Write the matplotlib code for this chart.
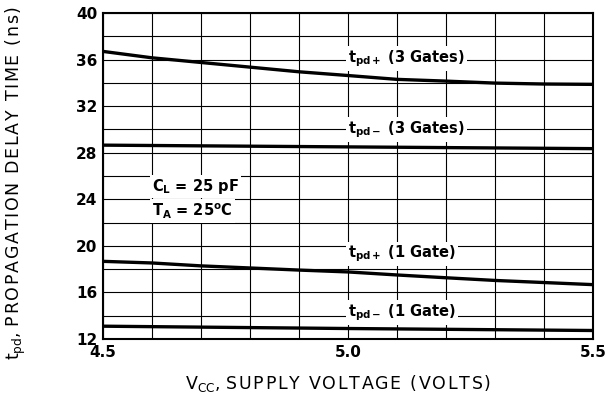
import matplotlib
matplotlib.use("Agg")
import matplotlib.pyplot as plt
import numpy as np

# supply voltage (V) and propagation delays (ns)
vcc = [4.5, 4.6, 4.7, 4.8, 4.9, 5.0, 5.1, 5.2, 5.3, 5.4, 5.5]
tpd_plus_3 = [36.7, 36.15, 35.75, 35.35, 34.95, 34.63, 34.3, 34.15, 33.98, 33.9, 33.87]
tpd_plus_1 = [18.67, 18.53, 18.28, 18.1, 17.92, 17.76, 17.5, 17.26, 17.03, 16.85, 16.67]
vcc_flat = [4.5, 5.0, 5.5]
tpd_minus_3 = [28.65, 28.5, 28.35]
tpd_minus_1 = [13.1, 12.9, 12.73]

x_labels = ["4.5", "5.0", "5.5"]
y_labels = ["12", "16", "20", "24", "28", "32", "36", "40"]

plt.rcParams["font.family"] = ["DejaVu Sans"]
plt.rcParams["mathtext.fontset"] = "dejavusans"


def spaced(s):
    # loose letter spacing like the old datasheet lettering
    return "\u200a".join(s)


fig = plt.figure(figsize=(6.1, 4.0), dpi=100)
ax = fig.add_axes([0.169, 0.1525, 0.803, 0.815])

lw = 2.4
ax.plot(vcc, tpd_plus_3, "k-", lw=lw, zorder=3)
ax.plot(vcc_flat, tpd_minus_3, "k-", lw=lw, zorder=3)
ax.plot(vcc, tpd_plus_1, "k-", lw=lw, zorder=3)
ax.plot(vcc_flat, tpd_minus_1, "k-", lw=lw, zorder=3)

ax.set_xlim(4.5, 5.5)
ax.set_ylim(12, 40)

# grid every 0.1 V and every 2 ns, labels only at some
xt = np.round(np.arange(4.5, 5.501, 0.1), 2)
ax.set_xticks(xt)
ax.set_xticklabels([f"{v:.1f}" if f"{v:.1f}" in x_labels else "" for v in xt],
                   fontweight="bold", fontsize=11)
yt = np.arange(12, 41, 2)
ax.set_yticks(yt)
ax.set_yticklabels([str(v) if str(v) in y_labels else "" for v in yt],
                   fontweight="bold", fontsize=11)
ax.tick_params(length=0, pad=4)
ax.grid(True, color="black", lw=0.8)
for s in ax.spines.values():
    s.set_linewidth(1.5)

box = dict(facecolor="white", edgecolor="none", pad=1.5)
tkw = dict(fontsize=10.5, fontweight="bold", va="center", bbox=box, zorder=4)
ax.text(5.12, 36.1, r"t$_\mathregular{pd+}$ (3 Gates)", ha="center", **tkw)
ax.text(5.12, 30.0, r"t$_\mathregular{pd-}$ (3 Gates)", ha="center", **tkw)
ax.text(5.11, 19.3, r"t$_\mathregular{pd+}$ (1 Gate)", ha="center", **tkw)
ax.text(5.11, 14.3, r"t$_\mathregular{pd-}$ (1 Gate)", ha="center", **tkw)
ax.text(4.6, 25.1, r"C$_\mathregular{L}$ = 25 pF", ha="left", **tkw)
ax.text(4.6, 23.0, r"T$_\mathregular{A}$ = 25$^\mathregular{o}$C", ha="left", **tkw)

ax.set_xlabel(r"V$_\mathregular{CC}$, " + spaced("SUPPLY VOLTAGE (VOLTS)"),
              fontsize=12.5, va="center")
ax.xaxis.set_label_coords(0.48, -0.135)
ax.set_ylabel(r"t$_\mathregular{pd}$, " + spaced("PROPAGATION DELAY TIME (ns)"),
              fontsize=12.5, va="center")
ax.yaxis.set_label_coords(-0.178, 0.48)

fig.savefig("out.png", dpi=100)
